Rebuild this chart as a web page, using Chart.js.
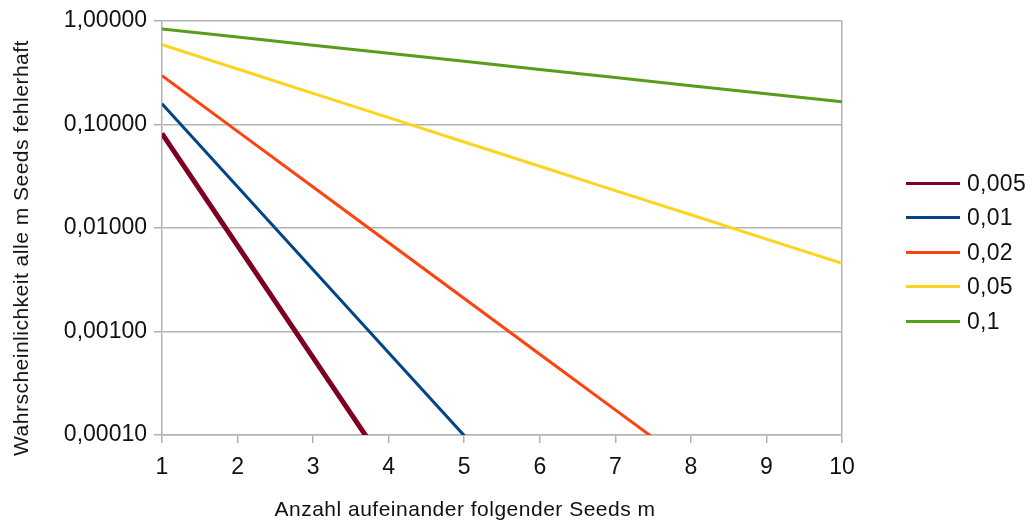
<!DOCTYPE html>
<html>
<head>
<meta charset="utf-8">
<script src="https://cdn.jsdelivr.net/npm/chart.js@4/dist/chart.umd.min.js"></script>
<style>
  body { margin: 0; background: #fff; }
  #wrap { position: relative; width: 1034px; height: 523px; font-family: "Liberation Sans", Arial, sans-serif; color: #111; }
  #legende { position: absolute; left: 906px; top: 166px; font-size: 23px; letter-spacing: 0.3px; }
  .eintrag { height: 34.5px; display: flex; align-items: center; }
  .linie { width: 54px; height: 3px; margin-right: 7px; }
  .titel { position: absolute; font-size: 21px; letter-spacing: 0.5px; white-space: nowrap; transform: translate(-50%, -50%); }
  #ytitel { left: 21px; top: 248px; transform: translate(-50%, -50%) rotate(-90deg); }
  #xtitel { left: 465px; top: 509px; }
</style>
</head>
<body>
<div id="wrap">
  <canvas id="grafica" width="1034" height="523"></canvas>
  <div id="legende"></div>
  <div class="titel" id="ytitel">Wahrscheinlichkeit alle m Seeds fehlerhaft</div>
  <div class="titel" id="xtitel">Anzahl aufeinander folgender Seeds m</div>
</div>
<script>
// Anzahl Seeds m
var seeds = [1, 2, 3, 4, 5, 6, 7, 8, 9, 10];
var xTickLabels = ['1', '2', '3', '4', '5', '6', '7', '8', '9', '10'];
var yTickWerte = [1, 0.1, 0.01, 0.001, 0.0001];
var yTickLabels = ['1,00000', '0,10000', '0,01000', '0,00100', '0,00010'];

var serienNamen = ['0,005', '0,01', '0,02', '0,05', '0,1'];
var p0005 = [0.0815, 0.00675, 0.000559, 0.0000463, 0.00000383, 3.2e-7, 2.6e-8, 2.2e-9, 1.8e-10, 1.5e-11];
var p001 = [0.158, 0.025, 0.00395, 0.000624, 0.0000986, 1.56e-5, 2.46e-6, 3.9e-7, 6.2e-8, 9.7e-9];
var p002 = [0.295, 0.0855, 0.0248, 0.00718, 0.00208, 0.000603, 0.000175, 0.0000507, 0.0000147, 0.00000425];
var p005 = [0.587, 0.342, 0.199, 0.116, 0.0676, 0.0394, 0.0229, 0.0134, 0.0078, 0.00455];
var p01 = [0.835, 0.697, 0.582, 0.486, 0.406, 0.339, 0.283, 0.236, 0.197, 0.165];

var farben = ['#7e0021', '#004586', '#ff420e', '#ffd320', '#579d1c'];
var breiten = [5, 3, 3, 3, 3];
var serien = [p0005, p001, p002, p005, p01];

var grau = '#b3b3b3';
var schrift = '"Liberation Sans", Arial, sans-serif';

const datasets = serien.map((werte, i) => ({
    label: serienNamen[i],
    data: werte.map((y, j) => ({ x: seeds[j], y: y })),
    borderColor: farben[i],
    backgroundColor: farben[i],
    borderWidth: breiten[i],
    pointRadius: 0,
    tension: 0
}));

new Chart('grafica', {
    type: 'line',
    data: { datasets },
    options: {
        responsive: false,
        animation: false,
        layout: { padding: { top: 20, right: 192, left: 0, bottom: 0 } },
        plugins: { legend: { display: false }, tooltip: { enabled: false } },
        scales: {
            x: {
                type: 'linear',
                min: 1, max: 10,
                afterFit: (s) => { s.height = 88; },
                ticks: {
                    stepSize: 1, padding: 11, color: '#111',
                    font: { family: schrift, size: 23 },
                    callback: (v, i) => xTickLabels[i]
                },
                grid: {
                    color: (c) => (c.tick && c.tick.value === 10) ? grau : 'rgba(0,0,0,0)',
                    tickColor: grau, tickLength: 8, lineWidth: 1.5
                },
                border: { color: grau, width: 1.5 }
            },
            y: {
                type: 'logarithmic',
                min: 0.0001, max: 1,
                afterFit: (s) => { s.width = 162; },
                afterBuildTicks: (s) => { s.ticks = yTickWerte.map(v => ({ value: v })); },
                ticks: {
                    padding: 7, color: '#111',
                    font: { family: schrift, size: 23 },
                    callback: (v) => yTickLabels[yTickWerte.indexOf(v)]
                },
                grid: { color: grau, tickColor: grau, tickLength: 8, lineWidth: 1.5 },
                border: { color: grau, width: 1.5 }
            }
        }
    }
});

var legende = document.getElementById('legende');
serienNamen.forEach((name, i) => {
    var e = document.createElement('div');
    e.className = 'eintrag';
    e.innerHTML = '<span class="linie" style="background:' + farben[i] + '"></span>' + name;
    legende.appendChild(e);
});
</script>
</body>
</html>
